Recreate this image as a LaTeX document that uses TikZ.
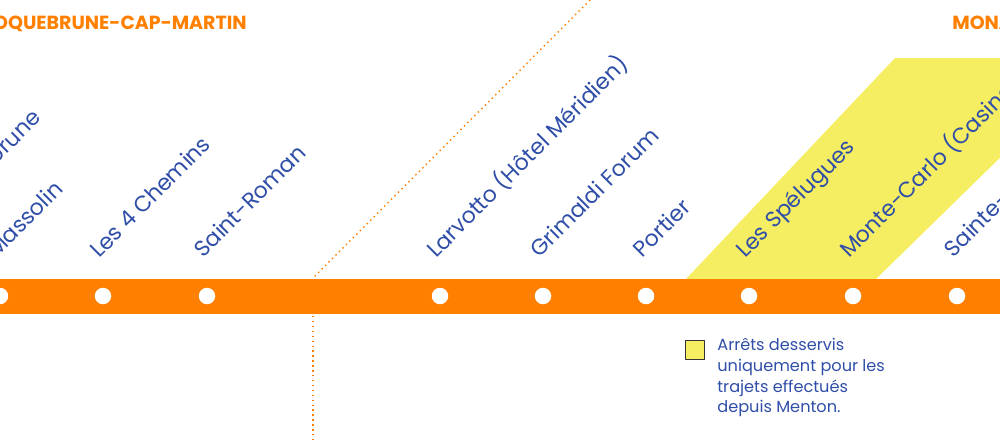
\documentclass[tikz,border=0pt]{standalone}
\usepackage{fontspec}
\setmainfont{Poppins}
\usetikzlibrary{calc}
\definecolor{lineorange}{HTML}{FF7F00}
\definecolor{zoneyellow}{HTML}{F6EE62}
\definecolor{stopblue}{HTML}{2F4EA8}
\tikzset{stop/.style={circle, fill=white, inner sep=0pt, minimum size=0.33cm}}
\tikzset{stopname/.style={anchor=base west, rotate=45, text=stopblue, inner sep=0pt, font=\fontsize{12.6}{15}\selectfont}}
\tikzset{town/.style={text=lineorange, inner sep=0pt, font=\fontsize{10.8}{13}\selectfont\bfseries}}

\begin{document}
\begin{tikzpicture}[x=0.02cm, y=-0.02cm, line join = round]
\useasboundingbox (0,0) rectangle (1000,441);
\clip (0,0) rectangle (1000,441);

% zone served only from Menton
\fill[zoneyellow] (685,280) -- (895,58) -- (1100,58) -- (1100,60) -- (875,280) -- cycle;

% border between the two towns
\coordinate (bt) at (590,0);
\coordinate (bm) at (313,278);
\coordinate (bb) at (313,441);
\draw[lineorange, thick, dotted] (bt) -- (bm);
\draw[lineorange, thick, dotted] ($(bm)+(0,38)$) -- (bb);

% the line
\fill[lineorange] (-10,279) rectangle (1010,314);

\foreach \x/\name/\lbl in {0/a/Massolin, 103/b/Les 4 Chemins, 207/c/Saint-Roman,
    440/d/Larvotto (Hôtel Méridien), 543/e/Grimaldi Forum, 646/f/Portier,
    749/g/Les Spélugues, 853/h/Monte-Carlo (Casino), 957/i/Sainte-Dévote}{
  \node[stop] (\name) at (\x,296) {};
  \node[stopname] (l\name) at (\x-4,259) {\lbl};
}
\node[stopname, anchor=base east] (lz) at (42,119) {Roquebrune};

\node[town, anchor=base east] (rcm) at (247,29) {ROQUEBRUNE-CAP-MARTIN};
\node[town, anchor=base west] (mc) at (952,29) {MONACO};

% legend
\node[draw=black!80, thick, fill=zoneyellow, minimum size=0.38cm, inner sep=0pt] (key) at (695,350) {};
\node[anchor=north west, text=stopblue, inner sep=0pt, align=left,
  font=\fontsize{9.2}{11.8}\selectfont] (keytext) at (717,338)
  {Arrêts desservis\\uniquement pour les\\trajets effectués\\depuis Menton.};
\end{tikzpicture}
\end{document}
